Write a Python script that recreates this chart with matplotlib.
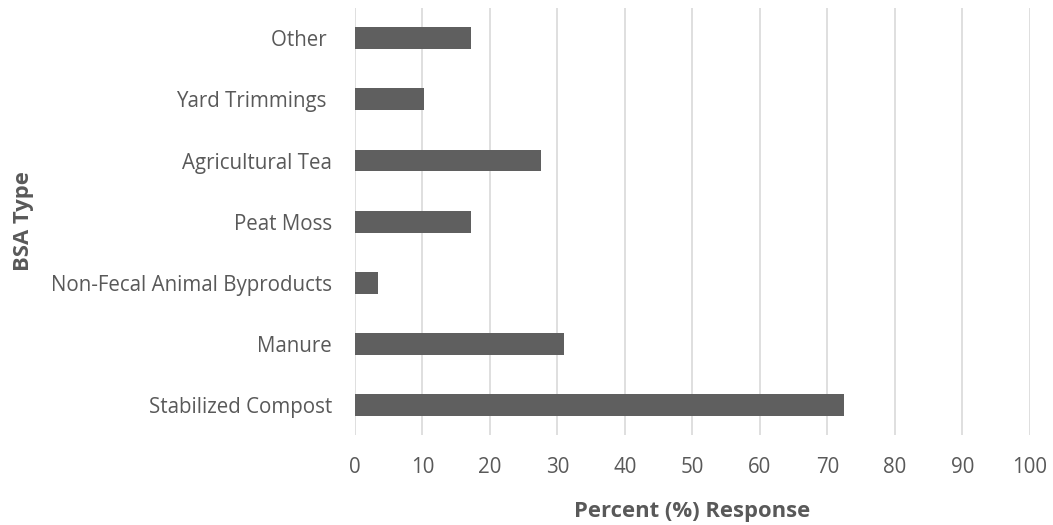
import matplotlib.pyplot as plt

# Survey data (percent of respondents)
categories = ['Stabilized Compost', 'Manure', 'Non-Fecal Animal Byproducts',
              'Peat Moss', 'Agricultural Tea', 'Yard Trimmings ', 'Other ']
percent = [72.4, 31.0, 3.4, 17.2, 27.6, 10.3, 17.2]
x_ticks = [0, 10, 20, 30, 40, 50, 60, 70, 80, 90, 100]

text_color = '#595959'
plt.rcParams['font.family'] = ['Open Sans', 'DejaVu Sans']

fig = plt.figure(figsize=(10.53, 5.25), dpi=100)
ax = fig.add_axes([0.337, 0.171, 0.641, 0.814])

ax.barh(range(len(categories)), percent, height=0.36, color='#5f5f5f', zorder=3)

ax.set_xlim(0, 100)
ax.set_ylim(-0.5, len(categories) - 0.5)
ax.set_xticks(x_ticks)
ax.set_yticks(range(len(categories)))
ax.set_yticklabels(categories)
ax.grid(axis='x', color='#d9d9d9', linewidth=1.2, zorder=0)
ax.tick_params(axis='both', length=0, colors=text_color, labelsize=14.8)
ax.tick_params(axis='y', pad=16.5)
ax.tick_params(axis='x', pad=16)
for s in ax.spines.values():
    s.set_visible(False)

ax.set_xlabel('Percent (%) Response', fontsize=15.8, fontweight='bold',
              color=text_color, labelpad=16)
ax.set_ylabel('BSA Type', fontsize=15.8, fontweight='bold', color=text_color)
ax.yaxis.set_label_coords(-0.476, 0.5)

plt.savefig('out.png', dpi=100)
